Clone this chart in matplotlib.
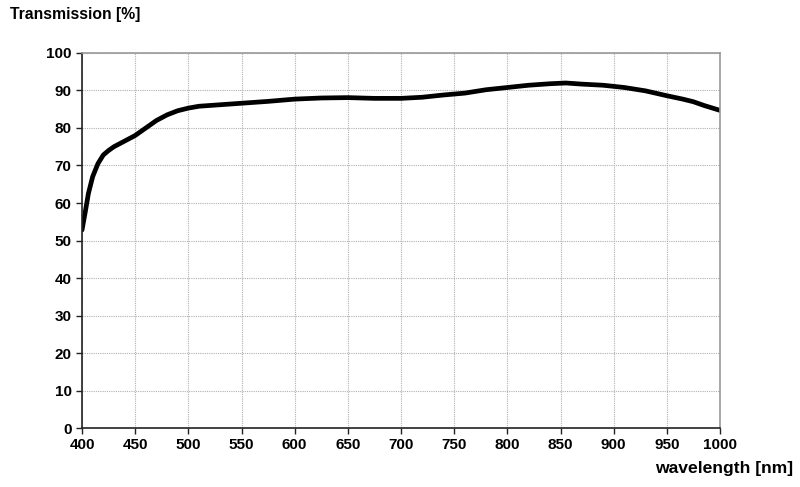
import matplotlib
matplotlib.use('Agg')
import matplotlib.pyplot as plt

# transmission curve
wavelength = [400, 403, 406, 410, 415, 420, 425, 430, 440, 450, 460, 470, 480,
              490, 500, 510, 525, 550, 575, 600, 625, 650, 675, 700, 720, 740,
              760, 780, 800, 820, 840, 855, 870, 890, 910, 930, 950, 965, 975,
              985, 1000]
transmission = [52.8, 57.5, 62.5, 67.0, 70.5, 72.8, 74.0, 75.0, 76.5, 78.0,
                80.0, 82.0, 83.5, 84.6, 85.3, 85.8, 86.1, 86.6, 87.1, 87.7,
                88.0, 88.1, 87.9, 87.9, 88.2, 88.8, 89.3, 90.2, 90.8, 91.4,
                91.8, 92.0, 91.7, 91.4, 90.8, 89.9, 88.6, 87.7, 87.0, 86.0, 84.7]

x_ticks = list(range(400, 1001, 50))
y_ticks = list(range(0, 101, 10))

plt.rcParams['font.family'] = ['Liberation Sans', 'DejaVu Sans']

fig = plt.figure(figsize=(8, 4.87), dpi=100)
ax = fig.add_axes([0.1025, 0.1211, 0.7975, 0.7701])

ax.plot(wavelength, transmission, color='black', lw=3.4, solid_capstyle='round')

ax.set_xlim(400, 1000)
ax.set_ylim(0, 100)
ax.set_xticks(x_ticks)
ax.set_yticks(y_ticks)
ax.grid(True, color='#b0b0b0', lw=0.8, ls=(0, (1, 1)))
ax.set_axisbelow(True)

for s in ['top', 'right']:
    ax.spines[s].set_color('#999999')
    ax.spines[s].set_linewidth(1.2)
for s in ['left', 'bottom']:
    ax.spines[s].set_color('#222222')
    ax.spines[s].set_linewidth(1.2)

ax.tick_params(direction='out', length=4, width=1, colors='#222222',
               labelsize=11)
for lab in ax.get_xticklabels() + ax.get_yticklabels():
    lab.set_fontweight('bold')
    lab.set_color('black')

fig.text(0.012, 0.971, 'Transmission [%]', fontsize=11.3, fontweight='bold',
         ha='left', va='center')
fig.text(0.991, 0.037, 'wavelength [nm]', fontsize=12.6, fontweight='bold',
         ha='right', va='center')

fig.savefig('out.png', dpi=100)
